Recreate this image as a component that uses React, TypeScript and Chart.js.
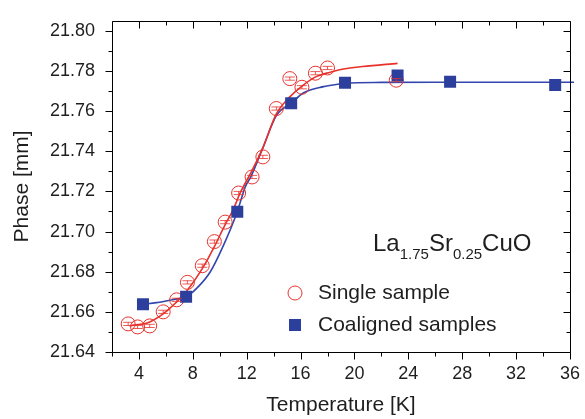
import { useEffect, useRef } from 'react';
import { Chart, registerables } from 'chart.js';

Chart.register(...registerables);

// ---- data ----
const singleT = [3.2, 3.9, 4.8, 5.8, 6.8, 7.6, 8.7, 9.6, 10.4, 11.4, 12.4, 13.2, 14.2, 15.2, 16.1, 17.1, 18.0, 23.1];
const singlePhase = [21.654, 21.6525, 21.653, 21.66, 21.666, 21.6747, 21.683, 21.695, 21.7047, 21.7192, 21.7272, 21.7372, 21.7613, 21.7762, 21.7719, 21.7789, 21.7815, 21.7754];
const singleErr = [0.0008, 0.0008, 0.0008, 0.0008, 0.0008, 0.0008, 0.0008, 0.0008, 0.0008, 0.0008, 0.0008, 0.0008, 0.0008, 0.0008, 0.0008, 0.0008, 0.0008, 0.0008];

const coalT = [4.3, 7.5, 11.3, 15.3, 19.3, 23.2, 27.1, 34.9];
const coalPhase = [21.6638, 21.6675, 21.7099, 21.7639, 21.7741, 21.7778, 21.7746, 21.773];

const singleFitT = [3.3, 4.8, 6.1, 7.5, 8.7, 9.6, 10.4, 11.0, 11.5, 12.4, 13.2, 14.2, 15.2, 16.2, 17.2, 18.2, 18.9, 20.6, 23.2];
const singleFitPhase = [21.653, 21.655, 21.6606, 21.67, 21.6815, 21.6925, 21.7035, 21.711, 21.719, 21.7305, 21.7417, 21.7586, 21.7671, 21.773, 21.7773, 21.7794, 21.7806, 21.7822, 21.7838];

const coalFitT = [4.3, 5.3, 6.6, 7.5, 8.3, 9.3, 10.3, 11.3, 11.9, 12.3, 13.2, 14.2, 15.3, 16.2, 17.7, 18.9, 19.3, 22, 26, 30, 36.3];
const coalFitPhase = [21.6638, 21.6646, 21.6662, 21.6675, 21.6718, 21.68, 21.6935, 21.7099, 21.7224, 21.7272, 21.7417, 21.7578, 21.7639, 21.769, 21.7722, 21.7735, 21.7739, 21.7743, 21.7744, 21.7744, 21.7744];

const xMajorTicks = [4, 8, 12, 16, 20, 24, 28, 32, 36];
const xMinorTicks = [2, 6, 10, 14, 18, 22, 26, 30, 34];
const yMajorTicks = [21.64, 21.66, 21.68, 21.7, 21.72, 21.74, 21.76, 21.78, 21.8];
const yMinorTicks = [21.65, 21.67, 21.69, 21.71, 21.73, 21.75, 21.77, 21.79];

const xTitle = 'Temperature [K]';
const yTitle = 'Phase [mm]';
const legendLabels = ['Single sample', 'Coaligned samples'];

const RED = '#e8312b';
const BLUE = '#2d3f9c';
const LINE_BLUE = '#3346ad';
const TEXT = '#1e1e1e';
const FONT = "'Liberation Sans', Arial, Helvetica, sans-serif";

const framePlugin = {
  id: 'frameTicks',
  afterDatasetsDraw(chart: any) {
    const { ctx, scales } = chart;
    const x = scales.x;
    const y = scales.y;
    ctx.save();
    // error bars for single sample
    ctx.strokeStyle = RED;
    ctx.lineWidth = 0.8;
    singleT.forEach((t, i) => {
      const px = x.getPixelForValue(t);
      const py1 = y.getPixelForValue(singlePhase[i] + singleErr[i]);
      const py2 = y.getPixelForValue(singlePhase[i] - singleErr[i]);
      ctx.beginPath();
      ctx.moveTo(px, py1);
      ctx.lineTo(px, py2);
      ctx.moveTo(px - 5, py1);
      ctx.lineTo(px + 5, py1);
      ctx.moveTo(px - 5, py2);
      ctx.lineTo(px + 5, py2);
      ctx.stroke();
    });
    ctx.restore();
  },
  afterDraw(chart: any) {
    const { ctx, chartArea, scales } = chart;
    const x = scales.x;
    const y = scales.y;
    const L = Math.round(chartArea.left) + 0.5;
    const R = Math.round(chartArea.right) + 0.5;
    const T = Math.round(chartArea.top) + 0.5;
    const B = Math.round(chartArea.bottom) + 0.5;
    ctx.save();
    ctx.strokeStyle = '#000';
    ctx.lineWidth = 1;
    ctx.beginPath();
    ctx.rect(L, T, R - L, B - T);
    ctx.stroke();
    const major = 7;
    const minor = 4;
    ctx.beginPath();
    const xt = (v: number, len: number) => {
      const px = Math.round(x.getPixelForValue(v)) + 0.5;
      ctx.moveTo(px, B);
      ctx.lineTo(px, B + len);
      ctx.moveTo(px, T);
      ctx.lineTo(px, T + len);
    };
    const yt = (v: number, len: number) => {
      const py = Math.round(y.getPixelForValue(v)) + 0.5;
      ctx.moveTo(L, py);
      ctx.lineTo(L - len, py);
      ctx.moveTo(R, py);
      ctx.lineTo(R - len, py);
    };
    xMajorTicks.forEach((v) => xt(v, major));
    xMinorTicks.forEach((v) => xt(v, minor));
    yMajorTicks.forEach((v) => yt(v, major));
    yMinorTicks.forEach((v) => yt(v, minor));
    ctx.stroke();

    // legend
    ctx.fillStyle = TEXT;
    ctx.font = `21px ${FONT}`;
    ctx.textBaseline = 'middle';
    ctx.textAlign = 'left';
    ctx.strokeStyle = RED;
    ctx.lineWidth = 1;
    ctx.beginPath();
    ctx.arc(295, 293, 7, 0, Math.PI * 2);
    ctx.stroke();
    ctx.fillText(legendLabels[0], 318, 293);
    ctx.fillStyle = BLUE;
    ctx.fillRect(289, 319, 12, 12);
    ctx.fillStyle = TEXT;
    ctx.fillText(legendLabels[1], 318, 325);

    // compound label
    ctx.textBaseline = 'alphabetic';
    let cx = 373;
    const base = 251;
    const part = (s: string, size: number, dy: number) => {
      ctx.font = `${size}px ${FONT}`;
      ctx.fillText(s, cx, base + dy);
      cx += ctx.measureText(s).width;
    };
    part('La', 24, 0);
    part('1.75', 15, 8);
    part('Sr', 24, 0);
    part('0.25', 15, 8);
    part('CuO', 24, 0);
    ctx.restore();
  },
};

export default function App() {
  const ref = useRef<HTMLCanvasElement | null>(null);
  useEffect(() => {
    document.body.style.margin = '0';
    const canvas = ref.current;
    if (!canvas) return;
    const chart = new Chart(canvas, {
      type: 'scatter',
      data: {
        datasets: [
          {
            label: legendLabels[1],
            data: coalT.map((t, i) => ({ x: t, y: coalPhase[i] })),
            pointStyle: 'rect',
            pointRadius: 8.5,
            backgroundColor: BLUE,
            borderColor: BLUE,
            borderWidth: 0,
            showLine: false,
            order: 0,
          },
          {
            label: legendLabels[0],
            data: singleT.map((t, i) => ({ x: t, y: singlePhase[i] })),
            pointStyle: 'circle',
            pointRadius: 7,
            backgroundColor: 'rgba(0,0,0,0)',
            borderColor: RED,
            borderWidth: 1,
            showLine: false,
            order: 1,
          },
          {
            label: 'fit single',
            data: singleFitT.map((t, i) => ({ x: t, y: singleFitPhase[i] })),
            showLine: true,
            borderColor: RED,
            borderWidth: 1.6,
            pointRadius: 0,
            cubicInterpolationMode: 'monotone',
            order: 2,
          } as any,
          {
            label: 'fit coaligned',
            data: coalFitT.map((t, i) => ({ x: t, y: coalFitPhase[i] })),
            showLine: true,
            borderColor: LINE_BLUE,
            borderWidth: 1.6,
            pointRadius: 0,
            cubicInterpolationMode: 'monotone',
            clip: false,
            order: 3,
          } as any,
        ],
      },
      options: {
        responsive: false,
        animation: false,
        layout: { padding: { left: 0, top: 8, right: 14, bottom: 0 } },
        plugins: { legend: { display: false }, tooltip: { enabled: false } },
        scales: {
          x: {
            type: 'linear',
            min: 2,
            max: 36,
            afterBuildTicks: (s: any) => {
              s.ticks = xMajorTicks.map((v) => ({ value: v }));
            },
            afterFit: (s: any) => {
              s.height = 67;
            },
            grid: { display: false, drawTicks: true, tickLength: 6 },
            border: { display: false },
            ticks: {
              padding: 5,
              color: TEXT,
              font: { size: 18, family: FONT },
              maxRotation: 0,
              autoSkip: false,
              callback: (v: any) => String(v),
            },
            title: {
              display: true,
              text: xTitle,
              color: TEXT,
              font: { size: 21, family: FONT },
              padding: { top: 0, bottom: 1 },
            },
          },
          y: {
            type: 'linear',
            min: 21.64,
            max: 21.805,
            afterBuildTicks: (s: any) => {
              s.ticks = yMajorTicks.map((v) => ({ value: v }));
            },
            afterFit: (s: any) => {
              s.width = 112;
            },
            grid: { display: false, drawTicks: true, tickLength: 7 },
            border: { display: false },
            ticks: {
              padding: 10,
              color: TEXT,
              font: { size: 18, family: FONT },
              autoSkip: false,
              callback: (v: any) => Number(v).toFixed(2),
            },
            title: {
              display: true,
              text: yTitle,
              color: TEXT,
              font: { size: 21, family: FONT },
              padding: { top: 10, bottom: 0 },
            },
          },
        },
      },
      plugins: [framePlugin],
    } as any);
    return () => chart.destroy();
  }, []);
  return <canvas ref={ref} width={585} height={419} style={{ display: 'block' }} />;
}
